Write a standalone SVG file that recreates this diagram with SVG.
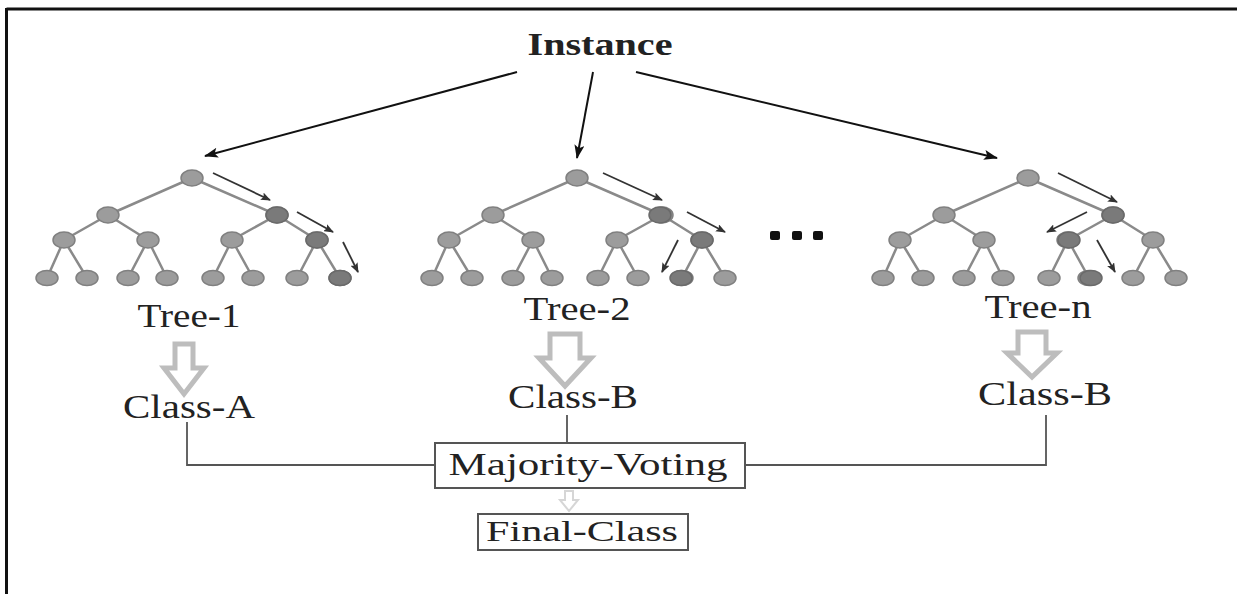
<svg xmlns="http://www.w3.org/2000/svg" xmlns:xlink="http://www.w3.org/1999/xlink" width="1237" height="594" viewBox="0 0 1237 594">
  <style>
    .lbl { font-family: "Liberation Serif", "Times New Roman", serif; fill: #222; text-anchor: middle; }
    .edge { stroke: #8a8a8a; stroke-width: 2.5; fill: none; }
    .node { fill: #9c9c9c; stroke: #808080; stroke-width: 1.5; }
    .dark { fill: #7a7a7a; stroke: #6a6a6a; stroke-width: 1.5; }
    .path-arrow { stroke: #333; stroke-width: 1.8; fill: none; marker-end: url(#small-head); }
    .main-arrow { stroke: #111; stroke-width: 2; fill: none; marker-end: url(#big-head); }
    .hollow { fill: #fff; stroke: #bdbdbd; stroke-width: 5; stroke-linejoin: miter; }
    .wire { stroke: #555; stroke-width: 1.8; fill: none; }
    .box { fill: #fff; stroke: #555; stroke-width: 2; }
  </style>
  <defs>
    <marker id="big-head" viewBox="0 0 14 10" refX="13" refY="5" markerWidth="15" markerHeight="10" markerUnits="userSpaceOnUse" orient="auto">
      <path d="M0,0 L14,5 L0,10 L3,5 Z" fill="#111"/>
    </marker>
    <marker id="small-head" viewBox="0 0 10 8" refX="9" refY="4" markerWidth="10" markerHeight="8" markerUnits="userSpaceOnUse" orient="auto">
      <path d="M0,0 L10,4 L0,8 L2,4 Z" fill="#333"/>
    </marker>
    <!-- binary decision tree, depth 3, drawn relative to its root -->
    <g id="tree">
      <g class="edge">
        <path d="M0,0 L-84,37 M0,0 L85,37"/>
        <path d="M-84,37 L-128,62 M-84,37 L-44,62 M85,37 L40,62 M85,37 L125,62"/>
        <path d="M-128,62 L-145,100 M-128,62 L-105,100 M-44,62 L-64,100 M-44,62 L-25,100"/>
        <path d="M40,62 L21,100 M40,62 L61,100 M125,62 L105,100 M125,62 L148,100"/>
      </g>
      <g class="node">
        <ellipse cx="0" cy="0" rx="11" ry="8"/>
        <ellipse cx="-84" cy="37" rx="11" ry="8"/>
        <ellipse cx="85" cy="37" rx="11" ry="8"/>
        <ellipse cx="-128" cy="62" rx="11" ry="8"/>
        <ellipse cx="-44" cy="62" rx="11" ry="8"/>
        <ellipse cx="40" cy="62" rx="11" ry="8"/>
        <ellipse cx="125" cy="62" rx="11" ry="8"/>
        <ellipse cx="-145" cy="100" rx="11" ry="7.5"/>
        <ellipse cx="-105" cy="100" rx="11" ry="7.5"/>
        <ellipse cx="-64" cy="100" rx="11" ry="7.5"/>
        <ellipse cx="-25" cy="100" rx="11" ry="7.5"/>
        <ellipse cx="21" cy="100" rx="11" ry="7.5"/>
        <ellipse cx="61" cy="100" rx="11" ry="7.5"/>
        <ellipse cx="105" cy="100" rx="11" ry="7.5"/>
        <ellipse cx="148" cy="100" rx="11" ry="7.5"/>
      </g>
    </g>
  </defs>

  <rect width="1237" height="594" fill="#fff"/>
  <!-- frame: top and left rules only -->
  <path d="M6.5,9 H1237 M6.5,8 V594" stroke="#111" stroke-width="3" fill="none"/>

  <g id="instance">
    <text class="lbl" x="600" y="55" font-size="32" font-weight="bold" textLength="145" lengthAdjust="spacingAndGlyphs">Instance</text>
  </g>

  <g id="tree-1">
    <use xlink:href="#tree" transform="translate(192,178)"/>
    <g class="dark">
      <ellipse cx="277" cy="215" rx="11" ry="8"/>
      <ellipse cx="317" cy="240" rx="11" ry="8"/>
      <ellipse cx="340" cy="278" rx="11" ry="7.5"/>
    </g>
    <path class="path-arrow" d="M213,173 L270,200"/>
    <path class="path-arrow" d="M297,212 L333,232"/>
    <path class="path-arrow" d="M343,242 L358,272"/>
    <text class="lbl" x="189" y="327" font-size="33" textLength="103" lengthAdjust="spacingAndGlyphs">Tree-1</text>
  </g>

  <g id="tree-2">
    <use xlink:href="#tree" transform="translate(577,178)"/>
    <g class="dark">
      <ellipse cx="660" cy="215" rx="11" ry="8"/>
      <ellipse cx="702" cy="240" rx="11" ry="8"/>
      <ellipse cx="681" cy="278" rx="11" ry="7.5"/>
    </g>
    <path class="path-arrow" d="M603,173 L662,200"/>
    <path class="path-arrow" d="M687,212 L725,232"/>
    <path class="path-arrow" d="M678,240 L662,272"/>
    <text class="lbl" x="577" y="320" font-size="33" textLength="107" lengthAdjust="spacingAndGlyphs">Tree-2</text>
  </g>

  <g id="dots" fill="#111">
    <rect x="770" y="231" width="10" height="9" rx="2"/>
    <rect x="792" y="231" width="10" height="9" rx="2"/>
    <rect x="813" y="231" width="10" height="9" rx="2"/>
  </g>

  <g id="tree-n">
    <use xlink:href="#tree" transform="translate(1028,178)"/>
    <g class="dark">
      <ellipse cx="1113" cy="215" rx="11" ry="8"/>
      <ellipse cx="1069" cy="240" rx="11" ry="8"/>
      <ellipse cx="1091" cy="278" rx="11" ry="7.5"/>
    </g>
    <path class="path-arrow" d="M1058,173 L1117,202"/>
    <path class="path-arrow" d="M1087,212 L1047,232"/>
    <path class="path-arrow" d="M1097,240 L1115,272"/>
    <text class="lbl" x="1038" y="318" font-size="33" textLength="107" lengthAdjust="spacingAndGlyphs">Tree-n</text>
  </g>

  <!-- tree outputs -->
  <g id="class-a">
    <path class="hollow" d="M175,344 H193 V368 H204 L184,394 L164,368 H175 Z"/>
    <text class="lbl" x="189" y="418" font-size="33" textLength="132" lengthAdjust="spacingAndGlyphs">Class-A</text>
  </g>
  <g id="class-b-2">
    <path class="hollow" d="M550,334 H580 V358 H591 L565,386 L539,358 H550 Z"/>
    <text class="lbl" x="573" y="408" font-size="33" textLength="130" lengthAdjust="spacingAndGlyphs">Class-B</text>
  </g>
  <g id="class-b-n">
    <path class="hollow" d="M1018,332 H1046 V353 H1057 L1032,377 L1007,353 H1018 Z"/>
    <text class="lbl" x="1045" y="405" font-size="33" textLength="134" lengthAdjust="spacingAndGlyphs">Class-B</text>
  </g>

  <g id="connectors">
    <path class="wire" d="M187,422 V465 H435"/>
    <path class="wire" d="M567,415 V443"/>
    <path class="wire" d="M745,465 H1046 V415"/>
    <path d="M565,491 H573 V500 H578 L569,511 L560,500 H565 Z" fill="#fff" stroke="#d6d6d6" stroke-width="2"/>
  </g>

  <g id="majority-voting">
    <rect class="box" x="435" y="443" width="310" height="45"/>
    <text class="lbl" x="588" y="475" font-size="32" textLength="279" lengthAdjust="spacingAndGlyphs">Majority-Voting</text>
  </g>

  <g id="final-class">
    <rect class="box" x="478" y="514" width="210" height="36"/>
    <text class="lbl" x="582" y="541" font-size="30" textLength="192" lengthAdjust="spacingAndGlyphs">Final-Class</text>
  </g>

  <!-- instance fans out to every tree -->
  <g id="fan-out">
    <path class="main-arrow" d="M517,72 L205,156"/>
    <path class="main-arrow" d="M593,72 L577,158"/>
    <path class="main-arrow" d="M636,72 L997,158"/>
  </g>
</svg>
